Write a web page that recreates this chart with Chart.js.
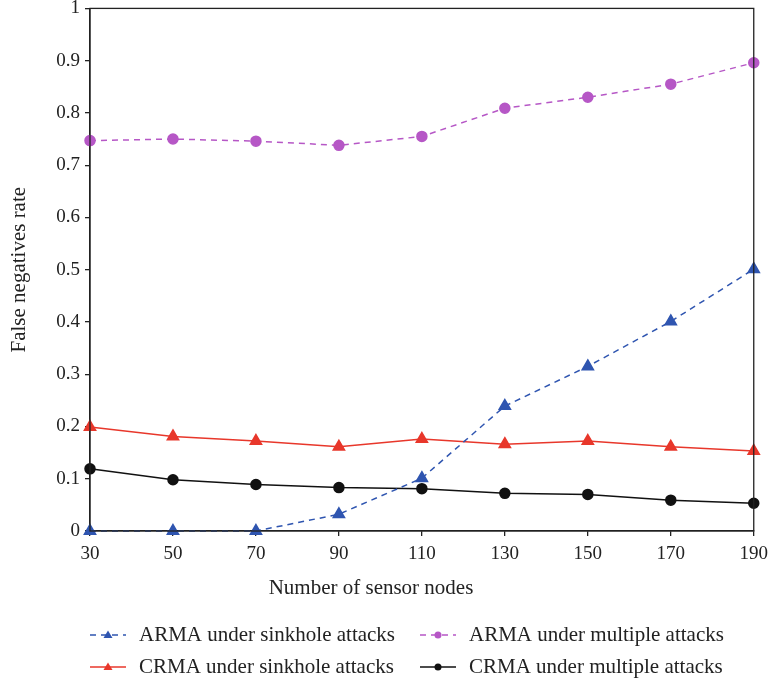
<!DOCTYPE html>
<html>
<head>
<meta charset="utf-8">
<script src="https://cdn.jsdelivr.net/npm/chart.js@4.4.0/dist/chart.umd.min.js"></script>
<style>
  html, body { margin: 0; padding: 0; background: #fff; overflow: hidden; }
  #outer { width: 770px; height: 686px; position: relative; overflow: hidden; }
  #wrap { width: 775px; height: 694px; position: absolute; left: 0; top: -8px; }
</style>
</head>
<body>
<div id="outer"><div id="wrap"><canvas id="chart"></canvas></div></div>
<script>
// number of sensor nodes on the x axis
const nodes = ['30', '50', '70', '90', '110', '130', '150', '170', '190'];

// false negatives rate
const armaSinkhole = [0, 0, 0, 0.032, 0.101, 0.239, 0.315, 0.401, 0.501];
const armaMultiple = [0.747, 0.750, 0.746, 0.738, 0.755, 0.809, 0.830, 0.855, 0.896];
const crmaSinkhole = [0.199, 0.181, 0.172, 0.161, 0.176, 0.166, 0.172, 0.161, 0.153];
const crmaMultiple = [0.119, 0.098, 0.089, 0.083, 0.081, 0.072, 0.070, 0.059, 0.053];

const seriesNames = [
  'ARMA under sinkhole attacks',
  'ARMA under multiple attacks',
  'CRMA under sinkhole attacks',
  'CRMA under multiple attacks'
];

const FONT = '"Liberation Serif", "DejaVu Serif", serif';
const BLUE = '#2f55b0';
const PURPLE = '#b657c6';
const RED = '#e8372b';
const BLACK = '#111111';

// draws the box around the plot, the x title and the legend under the chart
const extrasPlugin = {
  id: 'extras',
  afterDraw: function (chart) {
    const ctx = chart.ctx;
    const area = chart.chartArea;
    ctx.save();
    ctx.strokeStyle = '#222';
    ctx.lineWidth = 1.3;
    ctx.strokeRect(area.left, area.top, area.right - area.left, area.bottom - area.top);

    ctx.fillStyle = '#222';
    ctx.font = '21px ' + FONT;
    ctx.textAlign = 'center';
    ctx.textBaseline = 'middle';
    ctx.fillText('Number of sensor nodes', 371, area.bottom + 57);

    // legend entries: [dataset index, line start x, row offset below the plot]
    const entries = [[0, 90, 104], [1, 420, 104], [2, 90, 136], [3, 420, 136]];
    entries.forEach(function (e) {
      const ds = chart.data.datasets[e[0]];
      const x0 = e[1], y = area.bottom + e[2];
      ctx.strokeStyle = ds.borderColor;
      ctx.lineWidth = 1.5;
      ctx.setLineDash(ds.borderDash || []);
      ctx.beginPath();
      ctx.moveTo(x0, y);
      ctx.lineTo(x0 + 36, y);
      ctx.stroke();
      ctx.setLineDash([]);
      ctx.fillStyle = ds.pointBackgroundColor;
      ctx.beginPath();
      if (ds.pointStyle === 'triangle') {
        ctx.moveTo(x0 + 18, y - 4.5);
        ctx.lineTo(x0 + 22.5, y + 3);
        ctx.lineTo(x0 + 13.5, y + 3);
        ctx.closePath();
      } else {
        ctx.arc(x0 + 18, y, 3.5, 0, Math.PI * 2);
      }
      ctx.fill();
      ctx.fillStyle = '#222';
      ctx.textAlign = 'left';
      ctx.fillText(seriesNames[e[0]], x0 + 49, y);
    });
    ctx.restore();
  }
};

const ctx = document.getElementById('chart').getContext('2d');
const myChart = new Chart(ctx, {
  type: 'line',
  data: {
    labels: nodes,
    datasets: [
      {
        label: seriesNames[0],
        data: armaSinkhole,
        borderColor: BLUE,
        backgroundColor: BLUE,
        pointBackgroundColor: BLUE,
        pointBorderColor: BLUE,
        borderDash: [6, 5],
        borderWidth: 1.5,
        pointStyle: 'triangle',
        pointRadius: 6.5,
        clip: false
      },
      {
        label: seriesNames[1],
        data: armaMultiple,
        borderColor: PURPLE,
        backgroundColor: PURPLE,
        pointBackgroundColor: PURPLE,
        pointBorderColor: PURPLE,
        borderDash: [6, 5],
        borderWidth: 1.5,
        pointStyle: 'circle',
        pointRadius: 5,
        clip: false
      },
      {
        label: seriesNames[2],
        data: crmaSinkhole,
        borderColor: RED,
        backgroundColor: RED,
        pointBackgroundColor: RED,
        pointBorderColor: RED,
        borderWidth: 1.5,
        pointStyle: 'triangle',
        pointRadius: 6.5,
        clip: false
      },
      {
        label: seriesNames[3],
        data: crmaMultiple,
        borderColor: BLACK,
        backgroundColor: BLACK,
        pointBackgroundColor: BLACK,
        pointBorderColor: BLACK,
        borderWidth: 1.5,
        pointStyle: 'circle',
        pointRadius: 5,
        clip: false
      }
    ]
  },
  options: {
    responsive: true,
    maintainAspectRatio: false,
    animation: false,
    layout: { padding: { top: 0, right: 0, bottom: 85, left: 0 } },
    plugins: {
      legend: { display: false },
      tooltip: { enabled: false }
    },
    scales: {
      x: {
        offset: false,
        grid: { display: true, drawOnChartArea: false, tickLength: 5, color: '#222', lineWidth: 1.3 },
        border: { display: true, color: '#222', width: 1.3 },
        ticks: { color: '#222', font: { family: FONT, size: 19 }, padding: 7, maxRotation: 0 },
        afterFit: function (scale) { scale.height = 70; }
      },
      y: {
        min: 0,
        max: 1,
        grid: { display: true, drawOnChartArea: false, tickLength: 5, color: '#222', lineWidth: 1.3 },
        border: { display: true, color: '#222', width: 1.3 },
        ticks: {
          stepSize: 0.1,
          color: '#222',
          padding: 5,
          font: { family: FONT, size: 19 },
          callback: function (v) { return Math.round(v * 10) / 10; }
        },
        title: {
          display: true,
          text: 'False negatives rate',
          color: '#222',
          font: { family: FONT, size: 21 },
          padding: { top: 7, bottom: 0 }
        },
        afterFit: function (scale) { scale.width = 90; }
      }
    }
  },
  plugins: [extrasPlugin]
});
</script>
</body>
</html>
